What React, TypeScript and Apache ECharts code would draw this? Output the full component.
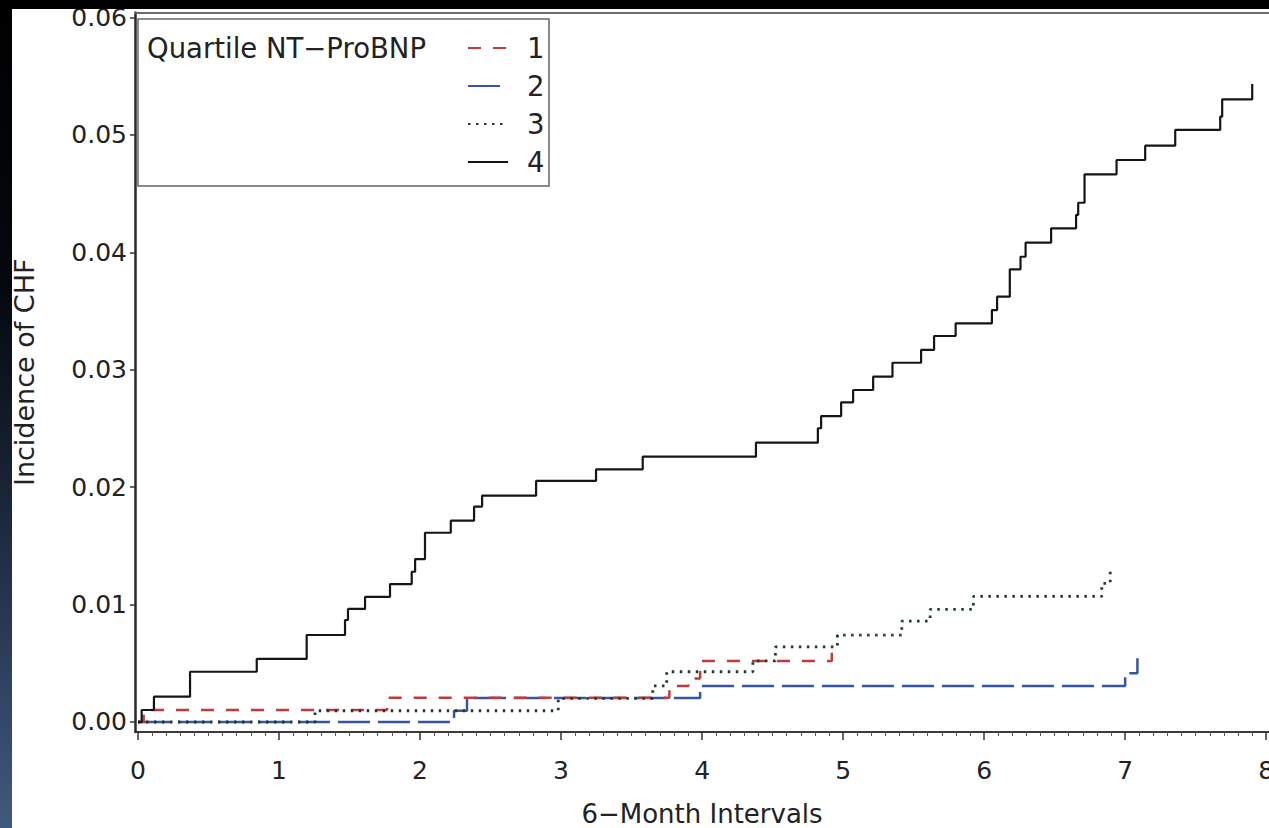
import React, { useEffect, useRef } from "react";
import * as echarts from "echarts";

// ---- Data ----
const seriesNames = ["1", "2", "3", "4"];

// Quartile 1 (red dashed)
const q1X = [0, 0.04, 1.766, 3.768, 3.903, 3.986, 4.92];
const q1Y = [0, 0.00102, 0.00207, 0.00307, 0.0037, 0.0052, 0.00628];

// Quartile 2 (blue long dash)
const q2X = [0, 2.241, 2.333, 3.986, 7.0, 7.087];
const q2Y = [0, 0.00096, 0.00204, 0.00307, 0.00415, 0.00543];

// Quartile 3 (green dotted)
const q3X = [0, 1.255, 2.98, 3.65, 3.749, 4.36, 4.52, 4.96, 5.416, 5.617, 5.924, 6.834, 6.894];
const q3Y = [0, 0.00096, 0.00202, 0.00307, 0.00428, 0.0052, 0.0064, 0.0074, 0.0086, 0.0096, 0.0107, 0.0118, 0.013];

// Quartile 4 (black solid)
const q4X = [
  0, 0.026, 0.113, 0.369, 0.842, 1.196, 1.468, 1.489, 1.61, 1.787, 1.941, 1.965, 2.035, 2.218, 2.383, 2.44,
  2.823, 3.248, 3.579, 4.382, 4.821, 4.844, 4.986, 5.071, 5.213, 5.35, 5.553, 5.645, 5.798, 6.055, 6.092,
  6.182, 6.258, 6.294, 6.475, 6.652, 6.667, 6.712, 6.939, 7.142, 7.355, 7.674, 7.688, 7.901,
];
const q4Y = [
  0, 0.00102, 0.00216, 0.00428, 0.00537, 0.00741, 0.00869, 0.00963, 0.01065, 0.01175, 0.0128, 0.01388, 0.01612,
  0.01715, 0.01834, 0.01928, 0.02053, 0.02152, 0.0226, 0.02379, 0.02502, 0.02606, 0.02723, 0.02828, 0.02941,
  0.0306, 0.03169, 0.03288, 0.03396, 0.03509, 0.03623, 0.03856, 0.03963, 0.04083, 0.04205, 0.04319, 0.04423,
  0.04665, 0.04787, 0.04909, 0.05043, 0.05156, 0.05304, 0.05434,
];

// Tick values / labels
const xTicks = [0, 1, 2, 3, 4, 5, 6, 7, 8];
const xTickLabels = ["0", "1", "2", "3", "4", "5", "6", "7", "8"];
const yTicks = [0, 0.01, 0.02, 0.03, 0.04, 0.05, 0.06];
const yTickLabels = ["0.00", "0.01", "0.02", "0.03", "0.04", "0.05", "0.06"];
const xMinorTicks: number[] = [];
for (let i = 0; i < 80; i++) {
  if (i % 10 !== 0) xMinorTicks.push(i / 10);
}

const FONT = "DejaVu Sans";
const TEXT = "#222";

function pairs(xs: number[], ys: number[]) {
  return xs.map((x, i) => [x, ys[i]]);
}

export default function App() {
  const ref = useRef<HTMLDivElement>(null);

  useEffect(() => {
    if (!ref.current) return;
    const chart = echarts.init(ref.current, undefined, { renderer: "svg" });
    const X_MIN = -0.0213;
    const X_MAX = 8.02;
    const Y_MIN = -0.000852;
    const Y_MAX = 0.060434;

    const option: any = {
      animation: false,
      backgroundColor: "#ffffff",
      grid: { left: 135, top: 12.5, right: 0, bottom: 96, containLabel: false, outerBoundsMode: "none" },
      legend: {
        data: seriesNames,
        orient: "vertical",
        left: 467,
        top: 33,
        itemWidth: 40,
        itemHeight: 14,
        itemGap: 8,
        padding: 0,
        itemStyle: { opacity: 0, borderWidth: 0 },
        textStyle: {
          fontSize: 27.5,
          fontFamily: FONT,
          color: TEXT,
          lineHeight: 30,
          padding: [0, 0, 0, 14],
        },
      },
      xAxis: [
        {
          type: "value",
          min: X_MIN,
          max: X_MAX,
          position: "bottom",
          axisLine: { show: true, onZero: false, lineStyle: { color: "#3a3a3a", width: 2 } },
          axisTick: { show: true, customValues: xTicks, length: 8, lineStyle: { color: "#333", width: 1.5 } },
          axisLabel: {
            customValues: xTicks,
            formatter: (v: number) => xTickLabels[xTicks.indexOf(Math.round(v))] ?? "",
            margin: 26,
            fontSize: 25,
            fontFamily: FONT,
            color: TEXT,
          },
          splitLine: { show: false },
          name: "6−Month Intervals",
          nameLocation: "middle",
          nameGap: 69,
          nameTextStyle: { fontSize: 26, fontFamily: FONT, color: TEXT },
        },
        {
          type: "value",
          min: X_MIN,
          max: X_MAX,
          position: "bottom",
          axisLine: { show: false, onZero: false },
          axisTick: { show: true, customValues: xMinorTicks, length: 4, lineStyle: { color: "#555", width: 1 } },
          axisLabel: { show: false },
          splitLine: { show: false },
        },
        {
          type: "value",
          min: X_MIN,
          max: X_MAX,
          position: "top",
          axisLine: { show: true, onZero: false, lineStyle: { color: "#6a6a6a", width: 2 } },
          axisTick: { show: false },
          axisLabel: { show: false },
          splitLine: { show: false },
        },
      ],
      yAxis: {
        type: "value",
        min: Y_MIN,
        max: Y_MAX,
        axisLine: { show: true, onZero: false, lineStyle: { color: "#2a2a2a", width: 2.5 } },
        axisTick: { show: true, customValues: yTicks, length: 5, lineStyle: { color: "#333", width: 1.5 } },
        axisLabel: {
          customValues: yTicks,
          formatter: (v: number) => {
            const i = yTicks.findIndex((t) => Math.abs(t - v) < 1e-9);
            return i >= 0 ? yTickLabels[i] : "";
          },
          margin: 8,
          fontSize: 25,
          fontFamily: FONT,
          color: TEXT,
        },
        splitLine: { show: false },
        name: "Incidence of CHF",
        nameLocation: "middle",
        nameGap: 97,
        nameTextStyle: { fontSize: 27, fontFamily: FONT, color: TEXT },
      },
      series: [
        {
          name: "1",
          type: "line",
          step: "end",
          symbol: "none",
          data: pairs(q1X, q1Y),
          lineStyle: { color: "#c23b3b", width: 2.5, type: [13, 12] },
          itemStyle: { color: "#c23b3b" },
          z: 3,
        },
        {
          name: "2",
          type: "line",
          step: "end",
          symbol: "none",
          data: pairs(q2X, q2Y),
          lineStyle: { color: "#3556a6", width: 2.5, type: [32, 8] },
          itemStyle: { color: "#3556a6" },
          z: 2,
        },
        {
          name: "3",
          type: "line",
          step: "end",
          symbol: "none",
          data: pairs(q3X, q3Y),
          lineStyle: { color: "#1d3d26", width: 2.8, type: [2.5, 5.5] },
          itemStyle: { color: "#1d3d26" },
          z: 4,
        },
        {
          name: "4",
          type: "line",
          step: "end",
          symbol: "none",
          data: pairs(q4X, q4Y),
          lineStyle: { color: "#151515", width: 2.2, type: "solid" },
          itemStyle: { color: "#151515" },
          z: 5,
        },
      ],
      graphic: [
        {
          type: "rect",
          z: 0,
          shape: { x: 138, y: 19, width: 411, height: 167 },
          style: { fill: "#fff", stroke: "#666", lineWidth: 1.5 },
        },
        {
          type: "text",
          z: 1,
          x: 147,
          y: 48,
          style: {
            text: "Quartile NT−ProBNP",
            fontSize: 27.5,
            fontFamily: FONT,
            fill: TEXT,
            verticalAlign: "middle",
          },
        },
        {
          type: "rect",
          z: 100,
          shape: { x: 0, y: 0, width: 1269, height: 9 },
          style: { fill: "#000" },
        },
        {
          type: "rect",
          z: 100,
          shape: { x: 0, y: 0, width: 12, height: 828 },
          style: {
            fill: new echarts.graphic.LinearGradient(0, 0, 0, 1, [
              { offset: 0, color: "#000000" },
              { offset: 0.35, color: "#05080e" },
              { offset: 0.6, color: "#1a2538" },
              { offset: 1, color: "#41597f" },
            ]),
          },
        },
      ],
    };

    chart.setOption(option);
    return () => {
      chart.dispose();
    };
  }, []);

  return (
    <div
      ref={ref}
      style={{ position: "fixed", left: 0, top: 0, width: 1269, height: 828, background: "#fff" }}
    />
  );
}
